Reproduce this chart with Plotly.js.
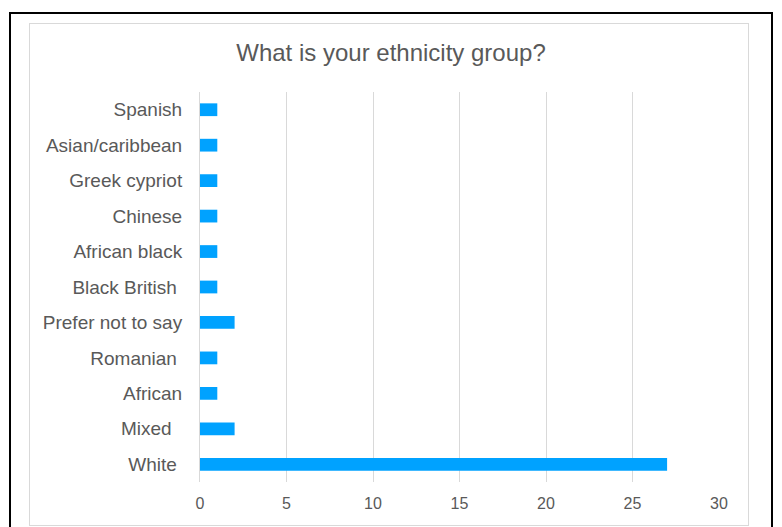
<!DOCTYPE html>
<html>
<head>
<meta charset="utf-8">
<script src="https://cdn.plot.ly/plotly-3.0.1.min.js"></script>
<style>
  html, body { margin: 0; padding: 0; background: #fff; }
  #wrap { position: relative; width: 782px; height: 527px; overflow: hidden; }
  #chart { position: absolute; left: 0; top: 0; width: 782px; height: 527px; }
  #outer { position: absolute; left: 9px; top: 12px; width: 760px; height: 520px; border: 2px solid #000; pointer-events: none; }
  #inner { position: absolute; left: 29px; top: 23px; width: 718px; height: 501px; border: 1px solid #D9D9D9; pointer-events: none; }
</style>
</head>
<body>
<div id="wrap">
  <div id="chart"></div>
  <div id="outer"></div>
  <div id="inner"></div>
</div>
<script>
// Categories listed bottom to top
const categories = ["White", "Mixed", "African", "Romanian", "Prefer not to say", "Black British", "African black", "Chinese", "Greek cypriot", "Asian/caribbean", "Spanish"];
const tickLabels = ["White\u00a0", "Mixed\u00a0\u00a0", "African", "Romanian\u00a0", "Prefer not to say", "Black British\u00a0", "African black", "Chinese", "Greek cypriot", "Asian/caribbean", "Spanish"];
const counts = [27, 2, 1, 1, 2, 1, 1, 1, 1, 1, 1];
const xTicks = [0, 5, 10, 15, 20, 25, 30];

const textColor = "#595959";
const gridColor = "#D9D9D9";

Plotly.newPlot("chart", [{
  type: "bar",
  orientation: "h",
  y: categories,
  x: counts,
  marker: { color: "#00A2FF", line: { width: 0 } },
  width: 0.36,
  hoverinfo: "x+y"
}], {
  width: 782,
  height: 527,
  margin: { l: 200, r: 63, t: 92, b: 45 },
  paper_bgcolor: "rgba(0,0,0,0)",
  plot_bgcolor: "rgba(0,0,0,0)",
  showlegend: false,
  title: {
    text: "What is your ethnicity group?",
    font: { family: "Liberation Sans, Arial, sans-serif", size: 24, color: textColor },
    x: 0.5, xanchor: "center",
    y: 1 - 53 / 527, yanchor: "middle"
  },
  xaxis: {
    range: [0, 30],
    tickvals: xTicks,
    ticktext: xTicks.map(String),
    showgrid: true,
    gridcolor: gridColor,
    gridwidth: 1,
    zeroline: false,
    showline: false,
    ticks: "",
    ticklabelstandoff: 10,
    tickfont: { family: "Liberation Sans, Arial, sans-serif", size: 16, color: textColor },
    fixedrange: true
  },
  yaxis: {
    type: "category",
    categoryorder: "array",
    categoryarray: categories,
    tickvals: categories,
    ticktext: tickLabels,
    showgrid: false,
    zeroline: false,
    showline: true,
    linecolor: gridColor,
    linewidth: 1,
    ticks: "",
    ticklabelstandoff: 13,
    tickfont: { family: "Liberation Sans, Arial, sans-serif", size: 19, color: textColor },
    fixedrange: true
  },
  bargap: 0.64
}, { displayModeBar: false, staticPlot: true });
</script>
</body>
</html>
